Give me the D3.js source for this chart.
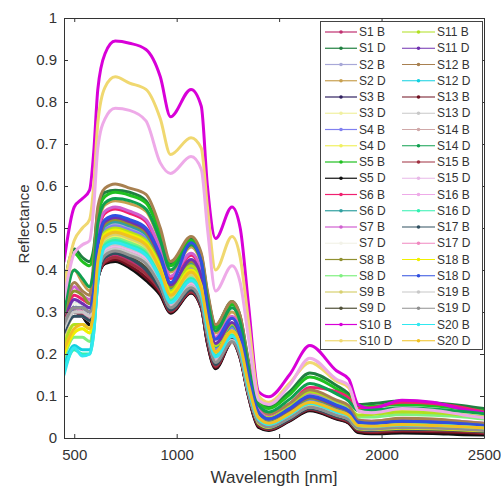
<!DOCTYPE html>
<html><head><meta charset="utf-8">
<script src="https://cdn.jsdelivr.net/npm/d3@7"></script>
<style>
html,body{margin:0;padding:0;background:#fff;}
svg{display:block;font-family:"Liberation Sans",Arial,sans-serif;}
</style></head><body>
<svg id="chart" width="501" height="489"></svg>
<script>
// Sampled wavelengths (nm) shared by every spectrum
const wavelengths = [450,500,540,575,595,615,650,700,770,850,920,970,1070,1120,1150,1190,1270,1310,1350,1400,1450,1550,1650,1780,1840,1885,1950,2100,2250,2400,2500];

// Reflectance spectra, one array per sample (B / D)
const s1B  = [.28,.31,.30,.29,.31,.38,.425,.435,.422,.395,.352,.303,.35,.315,.235,.173,.233,.195,.104,.032,.022,.044,.07,.05,.04,.02,.017,.02,.019,.017,.014];
const s1D  = [.36,.45,.43,.42,.45,.54,.585,.59,.585,.565,.49,.415,.475,.435,.345,.268,.325,.29,.185,.09,.075,.11,.155,.125,.105,.08,.082,.088,.084,.077,.07];
const s2B  = [.28,.33,.32,.31,.34,.44,.50,.51,.50,.48,.415,.352,.41,.37,.286,.215,.265,.233,.138,.056,.041,.064,.092,.072,.06,.034,.031,.037,.035,.031,.027];
const s2D  = [.33,.40,.37,.35,.40,.50,.555,.565,.558,.54,.465,.395,.455,.415,.325,.25,.30,.268,.165,.07,.052,.075,.105,.082,.07,.04,.037,.043,.041,.036,.033];
const s3B  = [.27,.30,.29,.27,.30,.38,.417,.424,.408,.38,.343,.299,.346,.311,.227,.167,.229,.191,.101,.027,.019,.041,.066,.046,.036,.015,.012,.014,.013,.011,.009];
const s3D  = [.21,.26,.26,.25,.29,.40,.465,.475,.465,.445,.386,.33,.383,.346,.266,.197,.247,.213,.12,.043,.03,.053,.08,.06,.05,.026,.023,.027,.026,.023,.02];
const s4B  = [.25,.31,.31,.30,.34,.44,.495,.505,.495,.475,.41,.348,.405,.366,.283,.212,.262,.23,.136,.055,.04,.062,.09,.07,.058,.033,.03,.036,.034,.03,.026];
const s4D  = [.22,.27,.27,.26,.30,.41,.47,.48,.47,.45,.39,.333,.386,.35,.27,.2,.25,.216,.122,.045,.032,.055,.082,.062,.052,.028,.025,.029,.028,.025,.022];
const s5B  = [.34,.44,.42,.41,.44,.53,.575,.585,.578,.56,.485,.41,.47,.43,.34,.262,.318,.283,.178,.085,.07,.103,.145,.117,.098,.074,.075,.08,.077,.07,.064];
const s5D  = [.27,.30,.29,.27,.30,.38,.415,.42,.405,.375,.34,.297,.345,.31,.225,.165,.228,.19,.10,.025,.018,.04,.065,.045,.035,.013,.01,.012,.011,.008,.007];
const s6B  = [.28,.34,.33,.32,.37,.48,.535,.545,.535,.515,.445,.38,.435,.395,.31,.236,.285,.252,.15,.065,.05,.08,.12,.11,.095,.07,.072,.085,.082,.072,.062];
const s6D  = [.25,.32,.31,.30,.34,.44,.505,.515,.505,.485,.42,.355,.415,.375,.29,.218,.268,.236,.14,.057,.042,.065,.094,.073,.061,.035,.032,.038,.036,.032,.028];
const s7B  = [.29,.36,.34,.33,.38,.49,.54,.55,.54,.52,.45,.385,.44,.40,.315,.24,.29,.258,.158,.068,.05,.075,.105,.083,.07,.042,.04,.046,.044,.039,.035];
const s7D  = [.28,.32,.31,.30,.32,.39,.435,.445,.435,.415,.36,.308,.356,.32,.243,.178,.228,.195,.107,.036,.025,.046,.072,.053,.043,.022,.02,.024,.023,.02,.017];
const s8B  = [.29,.35,.34,.32,.36,.45,.51,.52,.51,.49,.425,.36,.42,.38,.295,.222,.272,.24,.142,.058,.043,.066,.095,.074,.062,.036,.033,.039,.037,.033,.029];
const s8D  = [.19,.24,.24,.23,.28,.40,.465,.475,.465,.445,.388,.332,.388,.352,.272,.205,.255,.222,.13,.055,.045,.07,.1,.08,.068,.05,.05,.056,.054,.05,.045];
const s9B  = [.24,.29,.29,.28,.32,.42,.475,.485,.475,.455,.395,.336,.39,.353,.272,.202,.252,.22,.126,.048,.034,.056,.083,.063,.053,.03,.027,.031,.03,.026,.023];
const s9D  = [.27,.31,.30,.29,.31,.38,.43,.44,.43,.405,.357,.306,.354,.318,.24,.176,.236,.198,.106,.034,.024,.045,.071,.052,.042,.021,.019,.022,.021,.019,.016];
const s10B = [.42,.55,.57,.59,.68,.83,.915,.945,.94,.925,.86,.765,.83,.79,.60,.475,.55,.50,.32,.11,.098,.15,.22,.16,.14,.08,.07,.09,.085,.068,.06];
const s10D = [.36,.47,.50,.52,.60,.75,.835,.86,.845,.83,.76,.675,.715,.69,.55,.40,.48,.43,.28,.10,.085,.13,.18,.135,.12,.065,.058,.068,.064,.055,.05];
const s11B = [.22,.27,.27,.26,.31,.43,.49,.50,.49,.47,.41,.35,.41,.372,.29,.22,.272,.24,.145,.06,.048,.075,.11,.088,.075,.055,.056,.062,.06,.055,.05];
const s11D = [.27,.33,.32,.31,.35,.45,.515,.525,.515,.495,.43,.365,.425,.385,.30,.225,.275,.242,.145,.06,.045,.068,.098,.076,.064,.037,.034,.04,.038,.034,.03];
const s12B = [.30,.37,.35,.34,.42,.55,.595,.605,.595,.58,.50,.42,.48,.44,.35,.27,.325,.29,.18,.08,.058,.082,.115,.09,.077,.043,.04,.047,.045,.039,.035];
const s12D = [.17,.22,.21,.21,.26,.37,.45,.46,.45,.43,.374,.32,.372,.336,.257,.19,.24,.207,.116,.043,.031,.054,.08,.06,.05,.028,.026,.03,.029,.026,.023];
const s13B = [.27,.30,.29,.28,.30,.38,.418,.425,.41,.382,.345,.3,.347,.312,.228,.168,.23,.192,.102,.028,.02,.042,.067,.047,.037,.016,.013,.016,.015,.013,.011];
const s13D = [.26,.30,.30,.29,.32,.40,.45,.46,.45,.43,.374,.32,.37,.335,.256,.19,.238,.205,.115,.042,.03,.052,.078,.058,.049,.027,.025,.029,.028,.025,.022];
const s14B = [.27,.31,.31,.30,.33,.40,.445,.455,.445,.425,.37,.316,.367,.332,.253,.187,.236,.203,.113,.041,.029,.051,.077,.057,.048,.026,.024,.028,.027,.024,.021];
const s14D = [.30,.40,.38,.36,.40,.51,.56,.57,.565,.545,.47,.40,.46,.42,.33,.255,.31,.276,.17,.078,.062,.092,.13,.105,.088,.065,.066,.072,.069,.063,.058];
const s15B = [.28,.31,.30,.28,.30,.38,.42,.43,.416,.39,.35,.302,.348,.313,.232,.171,.232,.194,.103,.031,.021,.043,.069,.049,.039,.019,.016,.019,.018,.016,.013];
const s15D = [.25,.29,.29,.28,.31,.39,.445,.455,.445,.425,.37,.316,.366,.33,.252,.186,.235,.202,.112,.04,.029,.05,.076,.057,.047,.026,.024,.028,.027,.024,.021];
const s16B = [.33,.44,.46,.47,.55,.69,.76,.785,.78,.755,.655,.63,.67,.64,.50,.35,.41,.37,.24,.09,.08,.125,.19,.14,.125,.065,.06,.07,.066,.055,.048];
const s16D = [.16,.21,.20,.20,.25,.38,.46,.47,.46,.44,.382,.326,.38,.343,.264,.196,.245,.212,.12,.045,.033,.056,.083,.063,.053,.03,.028,.032,.031,.028,.025];
const s17B = [.25,.29,.29,.28,.30,.38,.43,.44,.428,.40,.355,.305,.353,.317,.238,.175,.235,.197,.105,.033,.023,.044,.07,.051,.041,.02,.018,.021,.02,.018,.015];
const s17D = [.27,.31,.30,.29,.32,.39,.44,.45,.44,.42,.366,.313,.362,.327,.249,.184,.233,.2,.11,.039,.028,.049,.075,.056,.046,.025,.023,.027,.026,.023,.02];
const s18B = [.20,.25,.26,.25,.30,.42,.485,.495,.485,.465,.405,.345,.40,.362,.28,.205,.255,.22,.12,.035,.025,.05,.075,.055,.045,.022,.02,.023,.022,.019,.017];
const s18D = [.26,.31,.31,.30,.35,.46,.52,.53,.52,.50,.435,.37,.465,.42,.31,.235,.285,.25,.15,.06,.045,.07,.10,.078,.065,.038,.035,.04,.038,.034,.03];
const s19B = [.26,.30,.30,.29,.31,.39,.44,.45,.44,.42,.365,.312,.361,.326,.248,.183,.232,.199,.109,.038,.027,.048,.074,.055,.045,.024,.022,.026,.025,.022,.019];
const s19D = [.27,.31,.31,.30,.32,.39,.435,.445,.435,.415,.362,.31,.358,.323,.245,.18,.23,.197,.108,.037,.026,.047,.073,.054,.044,.023,.021,.025,.024,.021,.018];
const s20B = [.15,.215,.195,.20,.25,.37,.455,.465,.455,.435,.378,.322,.375,.34,.26,.193,.242,.21,.118,.044,.032,.055,.082,.062,.052,.029,.027,.031,.03,.027,.024];
const s20D = [.21,.26,.27,.26,.30,.42,.48,.49,.48,.46,.40,.34,.395,.357,.276,.205,.255,.222,.128,.048,.035,.058,.085,.065,.054,.03,.028,.032,.03,.027,.024];

const seriesNames = ["S1 B","S1 D","S2 B","S2 D","S3 B","S3 D","S4 B","S4 D","S5 B","S5 D",
  "S6 B","S6 D","S7 B","S7 D","S8 B","S8 D","S9 B","S9 D","S10 B","S10 D",
  "S11 B","S11 D","S12 B","S12 D","S13 B","S13 D","S14 B","S14 D","S15 B","S15 D",
  "S16 B","S16 D","S17 B","S17 D","S18 B","S18 D","S19 B","S19 D","S20 B","S20 D"];
const seriesValues = [s1B,s1D,s2B,s2D,s3B,s3D,s4B,s4D,s5B,s5D,s6B,s6D,s7B,s7D,s8B,s8D,s9B,s9D,s10B,s10D,
  s11B,s11D,s12B,s12D,s13B,s13D,s14B,s14D,s15B,s15D,s16B,s16D,s17B,s17D,s18B,s18D,s19B,s19D,s20B,s20D];
const seriesColors = ["#c03070","#208040","#a8a8d8","#c8a050","#302060","#f0f0a0","#8080f0","#f0f060","#20c020","#101010",
  "#f02070","#30a0a0","#d060d0","#f2f2e8","#909030","#80f080","#d8d070","#505038","#d800d8","#f0d870",
  "#b0e020","#7030b0","#a88050","#10d0e0","#701020","#c8c8c8","#d0a8a8","#10a050","#a03040","#e8b8e8",
  "#eeaae8","#30f0b0","#305060","#f088c0","#f0f000","#3050e0","#c8c8c8","#909090","#30e8f0","#f0c020"];

const xTicks = [500,1000,1500,2000,2500];
const yTicks = [0,0.1,0.2,0.3,0.4,0.5,0.6,0.7,0.8,0.9,1];

const plot = {left:64, right:484, top:18, bottom:438};
const axisColor = "#333";

const svg = d3.select("#chart");
const x = d3.scaleLinear().domain([450,2500]).range([plot.left, plot.right]);
const y = d3.scaleLinear().domain([0,1]).range([plot.bottom, plot.top]);

svg.append("defs").append("clipPath").attr("id","plotClip")
  .append("rect").attr("x",plot.left).attr("y",plot.top)
  .attr("width",plot.right-plot.left).attr("height",plot.bottom-plot.top);

const line = d3.line()
  .x((d,i)=>x(wavelengths[i]))
  .y(d=>y(d))
  .curve(d3.curveMonotoneX);

const series = seriesNames.map((name,i)=>({name, values:seriesValues[i], color:seriesColors[i]}));

svg.append("g").attr("clip-path","url(#plotClip)")
  .selectAll("path").data(series).join("path")
  .attr("d",d=>line(d.values))
  .attr("fill","none")
  .attr("stroke",d=>d.color)
  .attr("stroke-width",3)
  .attr("stroke-linejoin","round")
  .attr("stroke-linecap","round");

function styleAxis(g, fontSize){
  g.select(".domain").attr("stroke",axisColor);
  g.selectAll(".tick line").attr("stroke",axisColor);
  g.selectAll(".tick text").attr("fill",axisColor).attr("font-size",fontSize)
    .attr("font-family","'Liberation Sans',Arial,sans-serif");
}

svg.append("g").attr("transform",`translate(0,${plot.bottom})`)
  .call(d3.axisBottom(x).tickValues(xTicks).tickSizeInner(-4).tickSizeOuter(0).tickPadding(11).tickFormat(d3.format("d")))
  .call(g=>styleAxis(g,15));
svg.append("g").attr("transform",`translate(0,${plot.top})`)
  .call(d3.axisTop(x).tickValues(xTicks).tickSizeInner(-4).tickSizeOuter(0).tickFormat(""))
  .call(g=>styleAxis(g,15));
svg.append("g").attr("transform",`translate(${plot.left},0)`)
  .call(d3.axisLeft(y).tickValues(yTicks).tickSizeInner(-4).tickSizeOuter(0).tickPadding(7).tickFormat(d3.format("~g")))
  .call(g=>styleAxis(g,15));
svg.append("g").attr("transform",`translate(${plot.right},0)`)
  .call(d3.axisRight(y).tickValues(yTicks).tickSizeInner(-4).tickSizeOuter(0).tickFormat(""))
  .call(g=>styleAxis(g,15));

svg.append("text")
  .attr("x",(plot.left+plot.right)/2).attr("y",483)
  .attr("text-anchor","middle").attr("font-size",17).attr("fill",axisColor)
  .text("Wavelength [nm]");
svg.append("text")
  .attr("transform",`translate(29,${(plot.top+plot.bottom)/2 - 4}) rotate(-90)`)
  .attr("text-anchor","middle").attr("font-size",15).attr("fill",axisColor)
  .text("Reflectance");

// Legend: two columns of twenty entries
const legend = {x:320, y:21, w:162, h:328, rowH:16.25, firstRow:32};
const lg = svg.append("g");
lg.append("rect").attr("x",legend.x+0.5).attr("y",legend.y+0.5)
  .attr("width",legend.w).attr("height",legend.h)
  .attr("fill","#fff").attr("stroke","#444").attr("stroke-width",1);
const colX = [{x0:325,x1:357,tx:359},{x0:402,x1:435,tx:437}];
const items = lg.selectAll("g.item").data(series).join("g").attr("class","item")
  .attr("transform",(d,i)=>`translate(0,${legend.firstRow + (i%20)*legend.rowH})`);
items.append("line")
  .attr("x1",(d,i)=>colX[Math.floor(i/20)].x0).attr("x2",(d,i)=>colX[Math.floor(i/20)].x1)
  .attr("y1",0).attr("y2",0).attr("stroke",d=>d.color).attr("stroke-width",1.2);
items.append("circle")
  .attr("cx",(d,i)=>(colX[Math.floor(i/20)].x0+colX[Math.floor(i/20)].x1)/2)
  .attr("cy",0).attr("r",1.8).attr("fill",d=>d.color);
items.append("text")
  .attr("x",(d,i)=>colX[Math.floor(i/20)].tx).attr("y",0).attr("dy","0.35em")
  .attr("font-size",12).attr("fill",axisColor)
  .text(d=>d.name);
</script>
</body></html>
